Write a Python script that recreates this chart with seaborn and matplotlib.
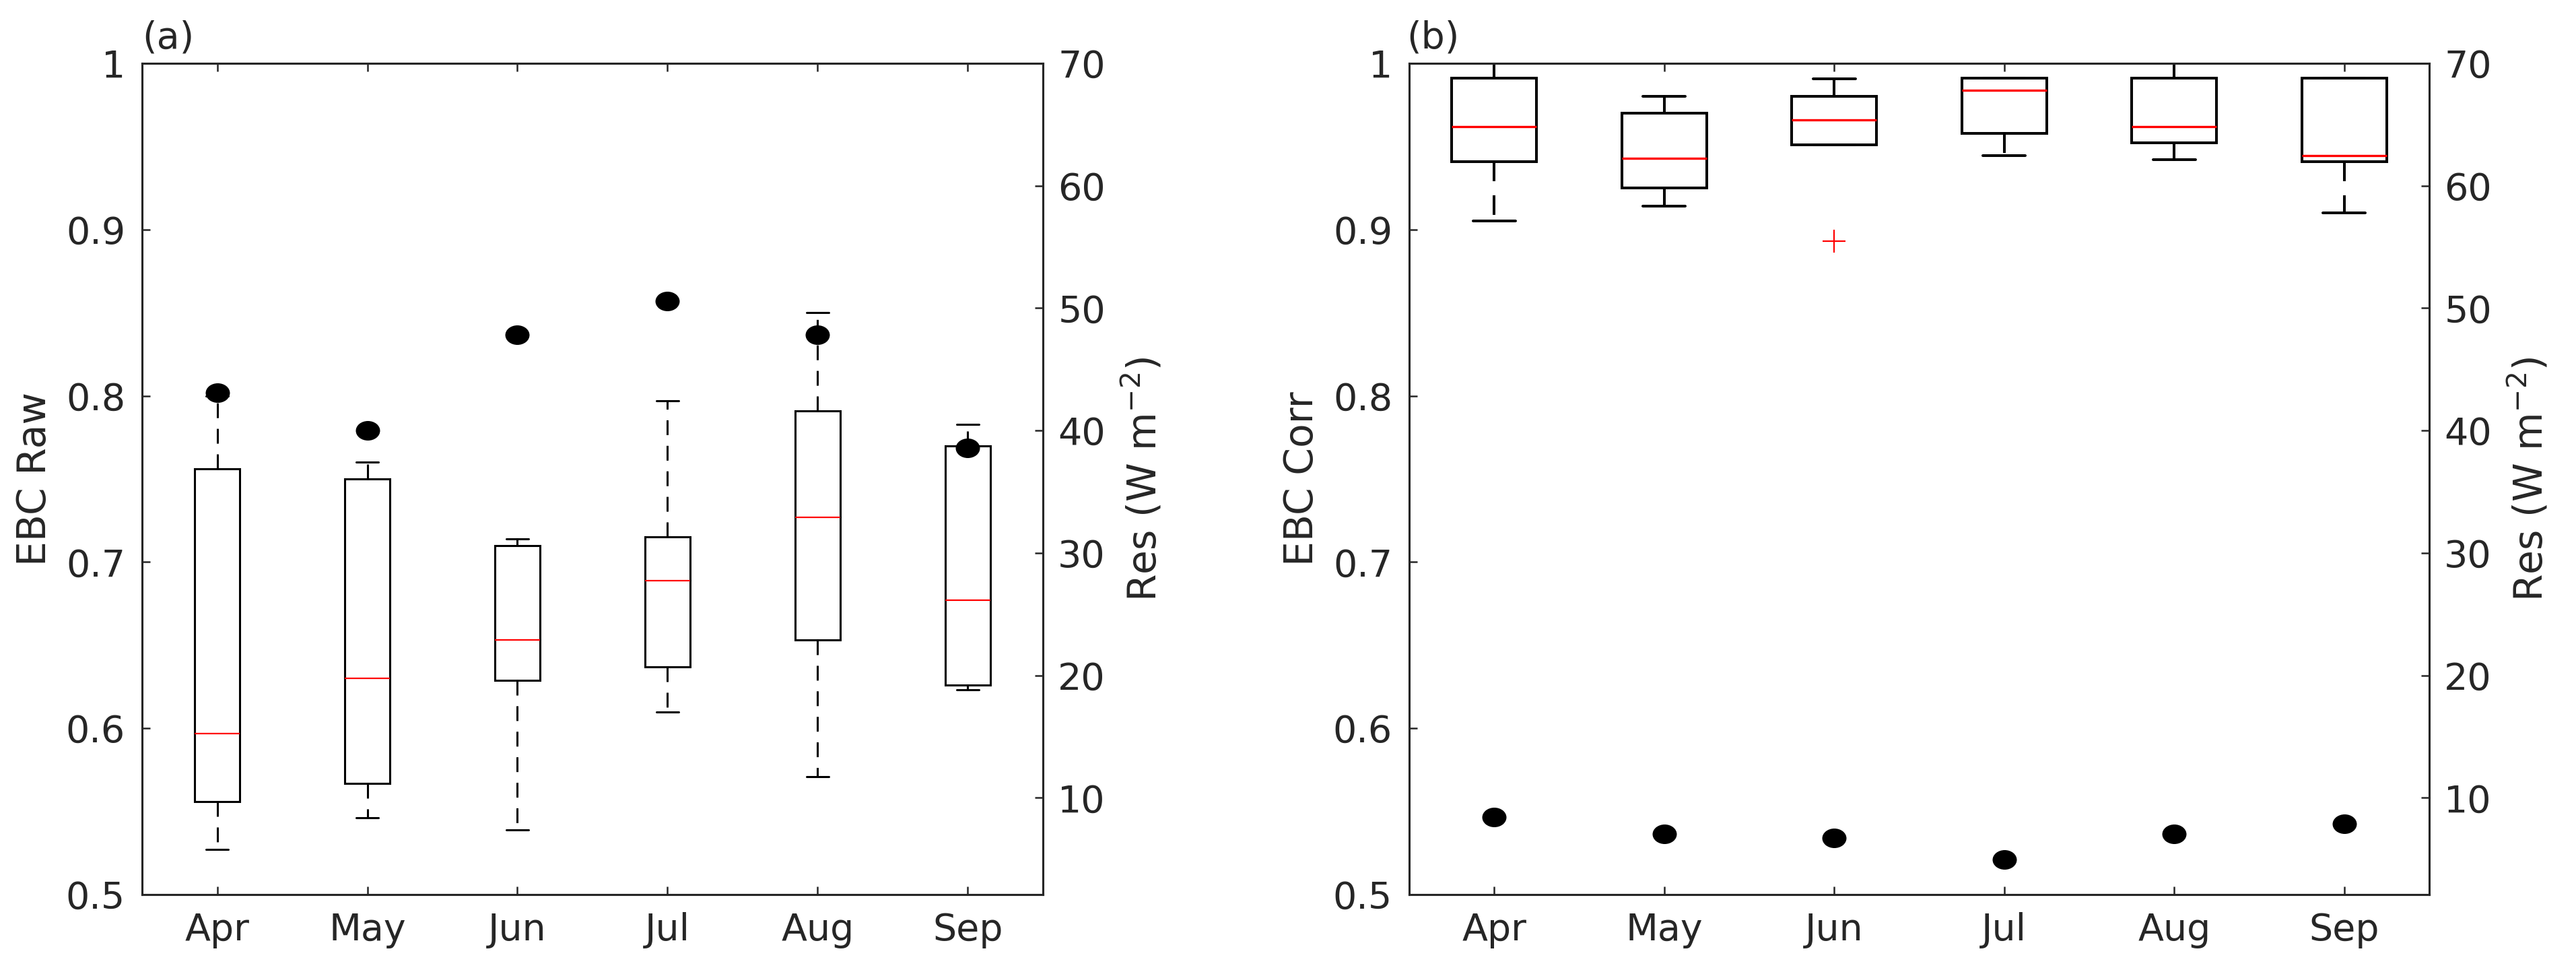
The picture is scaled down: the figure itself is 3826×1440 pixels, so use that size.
import numpy as np
import pandas as pd
import seaborn as sns
import matplotlib
matplotlib.use("Agg")
import matplotlib.pyplot as plt
from matplotlib.path import Path
from matplotlib.markers import MarkerStyle
from matplotlib.transforms import Affine2D

# Months on the x axis
months = ['Apr', 'May', 'Jun', 'Jul', 'Aug', 'Sep']

# (a) EBC Raw: box-plot summary values
raw_min = [0.527, 0.546, 0.539, 0.610, 0.571, 0.623]
raw_q1 = [0.556, 0.567, 0.629, 0.637, 0.653, 0.626]
raw_median = [0.597, 0.630, 0.653, 0.689, 0.727, 0.677]
raw_q3 = [0.756, 0.750, 0.710, 0.715, 0.791, 0.770]
raw_max = [0.800, 0.760, 0.714, 0.797, 0.850, 0.783]
raw_res = [43.1, 40.0, 47.8, 50.6, 47.8, 38.6]

# (b) EBC Corr (Jun minimum is the red outlier)
corr_min = [0.905, 0.914, 0.893, 0.9445, 0.942, 0.910]
corr_q1 = [0.941, 0.925, 0.951, 0.958, 0.952, 0.941]
corr_median = [0.962, 0.943, 0.966, 0.984, 0.962, 0.9445]
corr_q3 = [0.991, 0.970, 0.980, 0.991, 0.991, 0.991]
corr_max = [1.000, 0.980, 0.9905, 0.991, 1.000, 0.991]
corr_res = [8.4, 7.05, 6.7, 4.95, 7.05, 7.9]

ebc_ticks = [0.5, 0.6, 0.7, 0.8, 0.9, 1.0]
ebc_tick_labels = ['0.5', '0.6', '0.7', '0.8', '0.9', '1']
res_ticks = [10, 20, 30, 40, 50, 60, 70]

TXT = '#262626'
FS = 40

sns.set_theme(style='white', rc={'axes.edgecolor': TXT, 'axes.linewidth': 2.2,
                                 'text.color': TXT, 'axes.labelcolor': TXT})
plt.rcParams['font.family'] = ['DejaVu Sans']


def long_frame(cols):
    rows = []
    for i, m in enumerate(months):
        for c in cols:
            rows.append({'month': m, 'value': c[i]})
    return pd.DataFrame(rows)


# elliptical dot (the source image is slightly stretched horizontally)
dot = MarkerStyle(Path.unit_circle().transformed(Affine2D().scale(1.24, 1.0)))

fig = plt.figure(figsize=(38.26, 14.4), dpi=100)
ax_a = fig.add_axes([0.05515, 0.0778, 0.34971, 0.8569])
ax_b = fig.add_axes([0.54705, 0.0778, 0.39597, 0.8569])

panels = [
    (ax_a, [raw_min, raw_q1, raw_median, raw_q3, raw_max], raw_res,
     'EBC Raw', '(a)', 0.3, 2.2, 1.6, 0),
    (ax_b, [corr_min, corr_q1, corr_median, corr_q3, corr_max], corr_res,
     'EBC Corr', '(b)', 0.5, 2.9, 2.4, -3),
]

for ax, cols, res, ylab, tag, bw, lw, mlw, tagx in panels:
    df = long_frame(cols)
    sns.boxplot(data=df, x='month', y='value', order=months, ax=ax,
                width=bw, color='white', linecolor='black', linewidth=lw,
                whis=1.5, fliersize=24,
                medianprops={'color': 'red', 'linewidth': mlw},
                whiskerprops={'linestyle': (0, (7.2, 5.2))},
                flierprops={'marker': '+', 'markeredgecolor': 'red',
                            'markeredgewidth': 1.6})
    ax.set_xlim(-0.5, 5.5)
    ax.set_ylim(0.5, 1.0)
    ax.set_yticks(ebc_ticks)
    ax.set_yticklabels(ebc_tick_labels)
    ax.set_xlabel('')
    ax.set_ylabel(ylab, fontsize=42, labelpad=13)
    ax.tick_params(axis='both', direction='in', length=8.6, width=1.8,
                   labelsize=FS, color=TXT, labelcolor=TXT)
    ax.tick_params(axis='x', bottom=True, top=True, labeltop=False, pad=19)
    ax.tick_params(axis='y', left=True, right=False, pad=18)
    for s in ax.spines.values():
        s.set_visible(True)
        s.set_color(TXT)
        s.set_linewidth(2.2)

    ax2 = ax.twinx()
    sns.scatterplot(x=months, y=res, ax=ax2, marker=dot, s=671,
                    color='black', linewidth=0, zorder=5)
    ax.set_xlim(-0.5, 5.5)
    ax2.set_ylim(2.1, 70)
    ax2.set_yticks(res_ticks)
    ax2.set_ylabel('Res (W m$^{-2}$)', fontsize=42, labelpad=17)
    ax2.tick_params(axis='y', direction='in', right=True, length=8.6,
                    width=1.8, labelsize=FS, color=TXT, labelcolor=TXT, pad=16)
    for s in ax2.spines.values():
        s.set_color(TXT)
        s.set_linewidth(2.2)

    ax.annotate(tag, xy=(0, 1), xycoords='axes fraction', xytext=(tagx, 16),
                textcoords='offset points', ha='left', va='baseline',
                fontsize=FS, color=TXT)

fig.savefig('out.png', dpi=100)
